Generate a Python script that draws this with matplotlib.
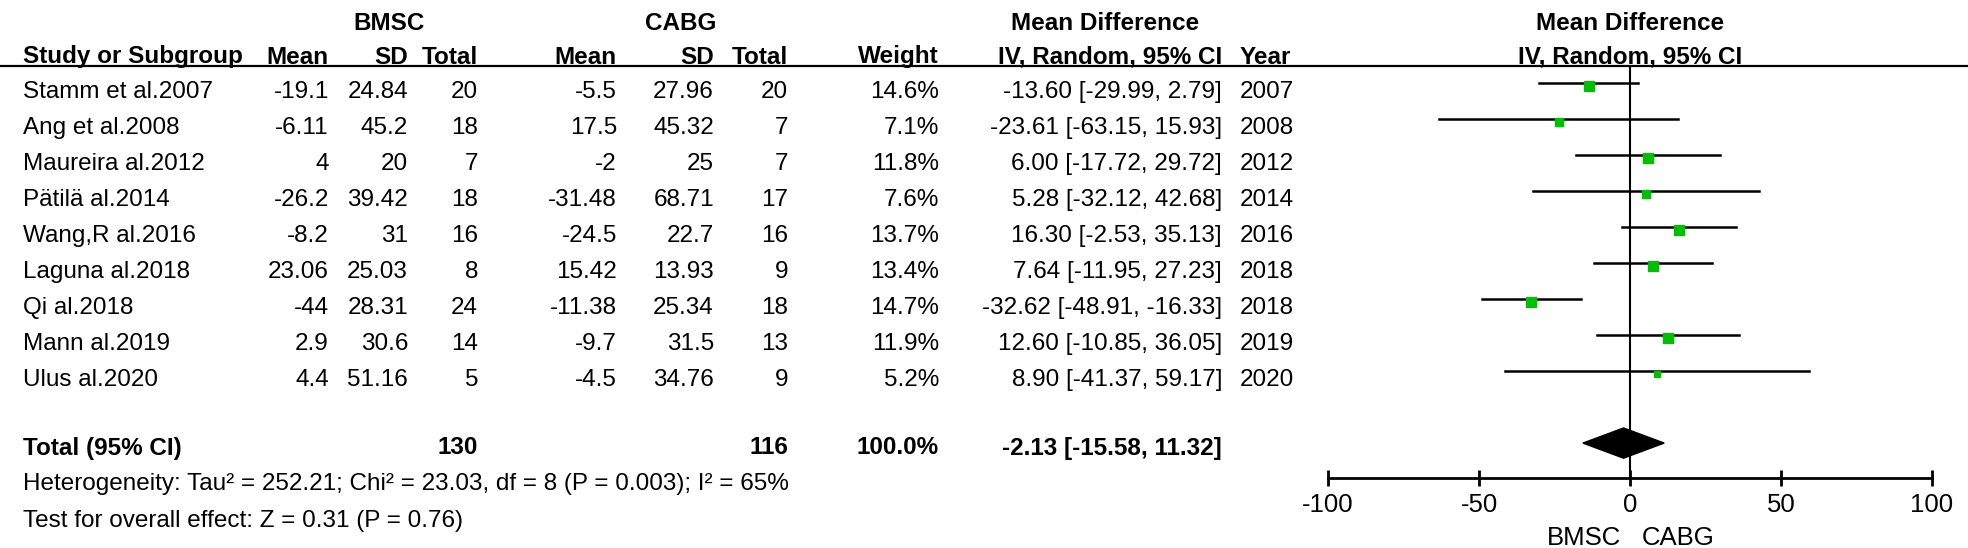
import matplotlib
matplotlib.use("Agg")
import matplotlib.pyplot as plt
from matplotlib.patches import Polygon
from matplotlib import transforms

plt.rcParams['font.family'] = ['Liberation Sans', 'DejaVu Sans']

# ---- datos ----
studies = ["Stamm et al.2007", "Ang et al.2008", "Maureira al.2012", "Pätilä al.2014",
           "Wang,R al.2016", "Laguna al.2018", "Qi al.2018", "Mann al.2019", "Ulus al.2020"]
bmsc_mean = ["-19.1", "-6.11", "4", "-26.2", "-8.2", "23.06", "-44", "2.9", "4.4"]
bmsc_sd = ["24.84", "45.2", "20", "39.42", "31", "25.03", "28.31", "30.6", "51.16"]
bmsc_n = [20, 18, 7, 18, 16, 8, 24, 14, 5]
cabg_mean = ["-5.5", "17.5", "-2", "-31.48", "-24.5", "15.42", "-11.38", "-9.7", "-4.5"]
cabg_sd = ["27.96", "45.32", "25", "68.71", "22.7", "13.93", "25.34", "31.5", "34.76"]
cabg_n = [20, 7, 7, 17, 16, 9, 18, 13, 9]
weight = [14.6, 7.1, 11.8, 7.6, 13.7, 13.4, 14.7, 11.9, 5.2]
md = [-13.60, -23.61, 6.00, 5.28, 16.30, 7.64, -32.62, 12.60, 8.90]
ci_lo = [-29.99, -63.15, -17.72, -32.12, -2.53, -11.95, -48.91, -10.85, -41.37]
ci_hi = [2.79, 15.93, 29.72, 42.68, 35.13, 27.23, -16.33, 36.05, 59.17]
years = [2007, 2008, 2012, 2014, 2016, 2018, 2018, 2019, 2020]

total_md, total_lo, total_hi = -2.13, -15.58, 11.32
total_bmsc, total_cabg = 130, 116
heterog = "Heterogeneity: Tau² = 252.21; Chi² = 23.03, df = 8 (P = 0.003); I² = 65%"
overall = "Test for overall effect: Z = 0.31 (P = 0.76)"
xticks = [-100, -50, 0, 50, 100]

W, H = 1968, 548
fig = plt.figure(figsize=(W / 100, H / 100), dpi=100)

# ---- tabla de texto (coordenadas en pixeles de la figura) ----
tab = fig.add_axes([0, 0, 1, 1])
tab.set_xlim(0, W)
tab.set_ylim(H, 0)
tab.axis('off')

fs = 17.5
row0, dy = 92, 36
cols_r = [329, 408, 478, 617, 714, 788, 939, 1222]
x_year = 1240

tab.text(389, 23, "BMSC", ha='center', va='center', fontsize=fs, fontweight='bold')
tab.text(681, 23, "CABG", ha='center', va='center', fontsize=fs, fontweight='bold')
tab.text(1105, 23, "Mean Difference", ha='center', va='center', fontsize=fs, fontweight='bold')
tab.text(1630, 23, "Mean Difference", ha='center', va='center', fontsize=fs, fontweight='bold')

tab.text(23, 57, "Study or Subgroup", ha='left', va='center', fontsize=fs, fontweight='bold')
for x, h in zip(cols_r, ["Mean", "SD", "Total", "Mean", "SD", "Total", "Weight",
                         "IV, Random, 95% CI"]):
    tab.text(x, 57, h, ha='right', va='center', fontsize=fs, fontweight='bold')
tab.text(x_year, 57, "Year", ha='left', va='center', fontsize=fs, fontweight='bold')
tab.text(1630, 57, "IV, Random, 95% CI", ha='center', va='center', fontsize=fs, fontweight='bold')
tab.plot([0, W], [65.5, 65.5], color='black', lw=1.6)

for i, s in enumerate(studies):
    y = row0 + i * dy
    vals = [bmsc_mean[i], bmsc_sd[i], str(bmsc_n[i]), cabg_mean[i], cabg_sd[i],
            str(cabg_n[i]), f"{weight[i]:.1f}%",
            f"{md[i]:.2f} [{ci_lo[i]:.2f}, {ci_hi[i]:.2f}]"]
    tab.text(23, y, s, ha='left', va='center', fontsize=fs)
    for x, v in zip(cols_r, vals):
        tab.text(x, y, v, ha='right', va='center', fontsize=fs)
    tab.text(x_year, y, str(years[i]), ha='left', va='center', fontsize=fs)

yt = 448
tab.text(23, yt, "Total (95% CI)", ha='left', va='center', fontsize=fs, fontweight='bold')
tab.text(cols_r[2], yt, str(total_bmsc), ha='right', va='center', fontsize=fs, fontweight='bold')
tab.text(cols_r[5], yt, str(total_cabg), ha='right', va='center', fontsize=fs, fontweight='bold')
tab.text(cols_r[6], yt, "100.0%", ha='right', va='center', fontsize=fs, fontweight='bold')
tab.text(cols_r[7], yt, f"{total_md:.2f} [{total_lo:.2f}, {total_hi:.2f}]",
         ha='right', va='center', fontsize=fs, fontweight='bold')
tab.text(23, 484, heterog, ha='left', va='center', fontsize=fs)
tab.text(23, 521, overall, ha='left', va='center', fontsize=fs)

# ---- forest plot ----
ax = fig.add_axes([1328 / W, (H - 478) / H, 604 / W, (478 - 65) / H])
ax.set_xlim(-100, 100)
ax.set_ylim(10.97, -0.5)
ax.patch.set_alpha(0)

for i in range(len(studies)):
    ax.plot([ci_lo[i], ci_hi[i]], [i, i], color='black', lw=1.8, zorder=2)
    ax.plot(md[i], i + 0.07, marker='s', color='#00BF00', mec='#00BF00',
            markersize=7.4 * (weight[i] / 14.6) ** 0.5, zorder=3)

yd = 10
dia = Polygon([[total_lo, yd], [total_md, yd - 0.42], [total_hi, yd], [total_md, yd + 0.42]],
              closed=True, color='black', zorder=4)
ax.add_patch(dia)
ax.axvline(0, color='black', lw=1.5, zorder=1)

for sp in ['top', 'right', 'left']:
    ax.spines[sp].set_visible(False)
ax.spines['bottom'].set_linewidth(2)
ax.set_yticks([])
ax.set_xticks(xticks)
ax.set_xticklabels([str(t) for t in xticks], fontsize=18.5)
ax.tick_params(axis='x', direction='inout', length=12, width=2, pad=5)

tr = transforms.blended_transform_factory(ax.transData, fig.transFigure)
ax.text(-3, (H - 538) / H, "BMSC", transform=tr, ha='right', va='center', fontsize=18.5)
ax.text(4, (H - 538) / H, "CABG", transform=tr, ha='left', va='center', fontsize=18.5)

fig.savefig("out.png", dpi=100)
